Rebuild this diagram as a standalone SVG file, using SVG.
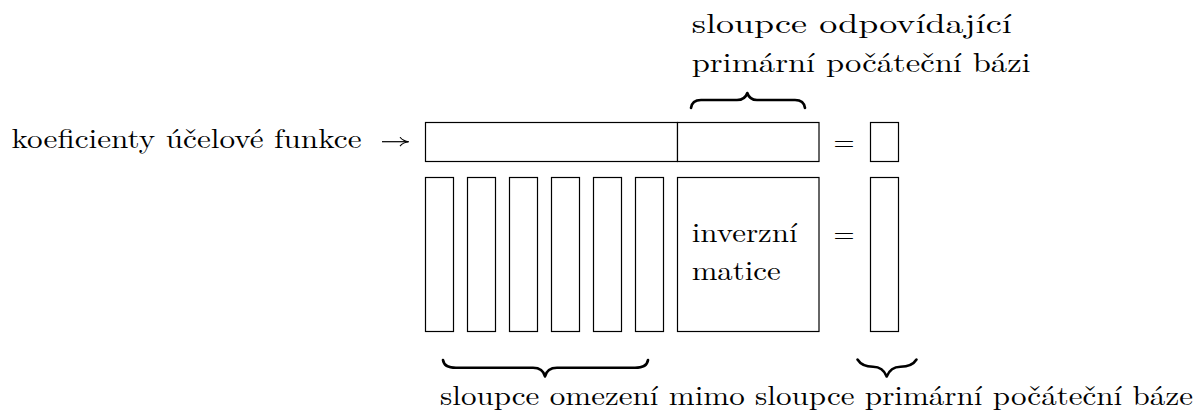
<svg xmlns="http://www.w3.org/2000/svg" width="1201" height="411" viewBox="0 0 1201 411">
<defs>
  <marker id="ah" viewBox="0 0 10 10" refX="9" refY="5" markerWidth="10" markerHeight="10" markerUnits="userSpaceOnUse" orient="auto">
    <path d="M1,0.5 Q4,4.5 10,5 Q4,5.5 1,9.5" fill="none" stroke="#000" stroke-width="1.1"/>
  </marker>
</defs>
<style>
  .box { fill: #fff; stroke: #000; stroke-width: 1.2; }
  text { font-family: 'Latin Modern Roman', 'CMU Serif', serif; font-size: 27px; fill: #000; }
  .brace { fill: none; stroke: #000; stroke-width: 2.6; stroke-linecap: round; stroke-linejoin: round; }
  .arrow { fill: none; stroke: #000; stroke-width: 1.2; }
</style>
<rect width="1201" height="411" fill="#fff"/>

<g id="label-objective">
  <text x="11.5" y="148.3" textLength="350" lengthAdjust="spacingAndGlyphs">koeficienty účelové funkce</text>
</g>

<g id="top-row-left"><rect class="box" x="425.5" y="122.5" width="252" height="39"/></g>
<g id="top-row-right"><rect class="box" x="677.5" y="122.5" width="141.5" height="39"/></g>
<g id="top-rhs"><rect class="box" x="870.5" y="122.5" width="28" height="39"/></g>

<g id="col1"><rect class="box" x="425.5" y="177.5" width="28" height="154"/></g>
<g id="col2"><rect class="box" x="467.5" y="177.5" width="28" height="154"/></g>
<g id="col3"><rect class="box" x="509.5" y="177.5" width="28" height="154"/></g>
<g id="col4"><rect class="box" x="551.5" y="177.5" width="28" height="154"/></g>
<g id="col5"><rect class="box" x="593.5" y="177.5" width="28" height="154"/></g>
<g id="col6"><rect class="box" x="635.5" y="177.5" width="28" height="154"/></g>
<g id="inverse-matrix">
  <rect class="box" x="677.5" y="177.5" width="141.5" height="154"/>
  <text x="691.7" y="241.7" textLength="106" lengthAdjust="spacingAndGlyphs">inverzní</text>
  <text x="691.7" y="280" textLength="89" lengthAdjust="spacingAndGlyphs">matice</text>
</g>
<g id="rhs-column"><rect class="box" x="870.5" y="177.5" width="28" height="154"/></g>

<g id="symbols">
  <text x="844" y="151" text-anchor="middle" font-size="30">=</text>
  <text x="844" y="243" text-anchor="middle" font-size="30">=</text>
</g>

<g id="connectors">
  <line class="arrow" x1="382" y1="141.7" x2="408" y2="141.7" marker-end="url(#ah)"/>
  <path class="brace" d="M691,108 Q692,100 701,100 L737,100 Q745,100 747.3,93 Q749.6,100 757,100 L795,100 Q804,100 805,108"/>
  <path class="brace" d="M443,360 Q444,367.7 456,367.7 L533,367.7 Q543,367.7 545,376.5 Q547,367.7 557,367.7 L635,367.7 Q647,367.7 648,360"/>
  <path class="brace" d="M857.5,359.5 Q862,366.7 873,366.7 Q883,366.7 886.7,376.5 Q890.5,366.7 900.5,366.7 Q912,366.7 916.5,359.5"/>
</g>

<g id="label-top">
  <text x="691.7" y="33.3" textLength="320" lengthAdjust="spacingAndGlyphs">sloupce odpovídající</text>
  <text x="691.7" y="71.7" textLength="339" lengthAdjust="spacingAndGlyphs">primární počáteční bázi</text>
</g>
<g id="label-bottom">
  <text x="440" y="404.5" textLength="753" lengthAdjust="spacingAndGlyphs">sloupce omezení mimo sloupce primární počáteční báze</text>
</g>
</svg>
